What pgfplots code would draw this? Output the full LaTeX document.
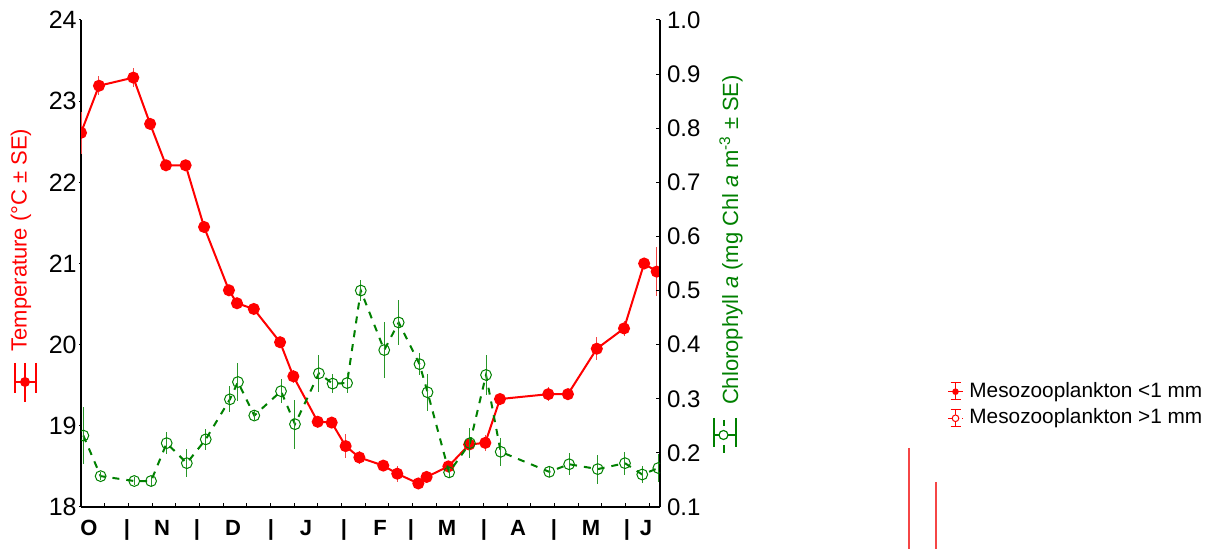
\documentclass[border=0pt]{standalone}
\usepackage{fontspec}
\setmainfont{Liberation Sans}
\usepackage{pgfplots}
\pgfplotsset{compat=1.18}
\usepackage{pgfplotstable}

\definecolor{tred}{RGB}{255,0,0}
\definecolor{errred}{RGB}{245,70,70}
\definecolor{chlgreen}{RGB}{0,128,0}
\definecolor{errgreen}{RGB}{40,150,40}

% x: sampling date in tick units (three ticks per month, October to June)
% Temperature (deg C) and its standard error
\pgfplotstableread{
x     y      e
0.00  22.61  0.26
0.76  23.19  0.12
2.21  23.29  0.12
2.92  22.72  0.07
3.59  22.21  0.06
4.42  22.21  0.05
5.20  21.45  0.06
6.25  20.67  0.06
6.59  20.51  0.05
7.30  20.44  0.06
8.41  20.03  0.07
8.97  19.61  0.08
10.00 19.05  0.07
10.59 19.04  0.07
11.18 18.75  0.15
11.76 18.61  0.08
12.77 18.51  0.07
13.36 18.41  0.10
14.25 18.29  0.05
14.60 18.37  0.05
15.52 18.50  0.06
16.40 18.77  0.10
17.08 18.79  0.10
17.70 19.33  0.05
19.74 19.39  0.09
20.57 19.39  0.05
21.79 19.95  0.14
22.94 20.20  0.09
23.79 21.00  0.07
24.32 20.90  0.30
}\temptable

% Chlorophyll a (mg Chl a m^-3) and its standard error
\pgfplotstableread{
x     y      e
0.10  0.232  0.052
0.83  0.157  0.008
2.25  0.148  0.008
2.96  0.148  0.009
3.62  0.218  0.020
4.47  0.181  0.026
5.27  0.225  0.020
6.29  0.299  0.024
6.63  0.331  0.035
7.32  0.269  0.009
8.45  0.314  0.022
9.04  0.253  0.045
10.05 0.347  0.034
10.63 0.328  0.018
11.24 0.329  0.019
11.82 0.500  0.019
12.81 0.390  0.052
13.42 0.441  0.042
14.30 0.364  0.020
14.64 0.312  0.034
15.55 0.164  0.010
16.43 0.218  0.028
17.11 0.344  0.037
17.73 0.202  0.026
19.78 0.165  0.010
20.62 0.179  0.020
21.83 0.170  0.027
22.98 0.181  0.021
23.71 0.160  0.015
24.39 0.172  0.026
}\chltable

\begin{document}
\begin{tikzpicture}
\useasboundingbox (0,0) rectangle (605.5pt,274.5pt);
\pgfplotsset{
  common/.style={
    scale only axis, width=289.5pt, height=243.5pt,
    at={(40.5pt,21pt)}, anchor=south west,
    xmin=0, xmax=24.46,
    clip marker paths=true,
    /pgf/number format/assume math mode=true,
    ticklabel style={font=\fontsize{12}{14}\selectfont},
    axis line style={line width=0.6pt, black},
    major tick style={line width=0.5pt, black},
  }
}
% temperature, left axis
\begin{axis}[common,
  axis x line*=bottom, axis y line*=left,
  ymin=18, ymax=24, ytick={18,19,...,24},
  xtick=\empty,
  tick align=outside, major tick length=1pt,
  yticklabel style={inner xsep=1pt, font=\fontsize{12.5}{14}\selectfont},
]
\addplot[tred, line width=1pt, mark=*, mark size=2.5pt,
  mark options={solid, fill=tred, draw=tred},
  error bars/.cd, y dir=both, y explicit, error mark=none,
  error bar style={errred, line width=0.5pt}]
  table[x=x, y=y, y error=e]{\temptable};
\end{axis}
% chlorophyll, right axis
\begin{axis}[common,
  axis x line*=bottom, axis y line*=right,
  ymin=0.1, ymax=1.0, ytick={0.1,0.2,...,1.0},
  xtick={0,1,...,24}, xticklabels=\empty,
  tick align=inside, major tick length=2pt,
  yticklabel style={/pgf/number format/.cd, fixed, fixed zerofill, precision=1},
]
\addplot[chlgreen, line width=1pt, dash pattern=on 3.5pt off 3.5pt,
  mark=o, mark size=2.7pt,
  mark options={solid, fill=white, draw=chlgreen, line width=0.5pt},
  error bars/.cd, y dir=both, y explicit, error mark=none,
  error bar style={errgreen, solid, line width=0.5pt}]
  table[x=x, y=y, y error=e]{\chltable};
\end{axis}

% annotations in pixel units, origin at the top left corner
\begin{scope}[shift={(0pt,274.5pt)}, x=0.5pt, y=-0.5pt]
  % month labels
  \foreach \p/\t in {89/O,127/|,162/N,197/|,233/D,271/|,306/J,344/|,380/F,
                     411/|,447/M,484/|,518/A,554/|,591/M,627/|,646/J}
    \node[anchor=base, inner sep=0pt, font=\fontsize{11}{13}\selectfont\bfseries] at (\p,535.5) {\t};

  % left axis title with its key
  \node[rotate=90, text=tred, inner sep=0pt, font=\fontsize{11}{13}\selectfont] at (21,240)
    {Temperature (°C ± SE)};
  \draw[tred, line width=0.6pt] (15,363) -- (15,393) (36,363) -- (36,393) (15,382) -- (36,382);
  \draw[tred, line width=1pt] (25,363) -- (25,402);
  \fill[tred] (25,382) circle (5);

  % right axis title with its key
  \node[rotate=90, text=chlgreen, inner sep=0pt, font=\fontsize{11}{13}\selectfont] at (731,240)
    {Chlorophyll \textit{a} (mg Chl \textit{a} m\textsuperscript{-3} ± SE)};
  \draw[chlgreen, line width=0.6pt] (714,418) -- (714,447) (736,418) -- (736,447) (714,435) -- (736,435);
  \draw[chlgreen, line width=1pt] (723.5,420) -- (723.5,426) (723.5,445) -- (723.5,453);
  \draw[chlgreen, line width=0.6pt, fill=white] (723.5,435) circle (4.5);

  % key for the size classes
  \draw[tred, line width=0.5pt] (955.5,383) -- (955.5,400) (950.5,383) -- (960.5,383) (950.5,400) -- (960.5,400);
  \draw[tred, line width=0.7pt] (948,391.7) -- (963,391.7);
  \fill[tred] (955.5,391.7) circle (3.3);
  \node[anchor=west, inner sep=0pt, font=\fontsize{10.4}{12}\selectfont] at (969,391.7) {Mesozooplankton <1 mm};

  \draw[tred, line width=0.5pt] (955.5,410) -- (955.5,427) (950.5,410) -- (960.5,410) (950.5,427) -- (960.5,427);
  \draw[tred, line width=0.7pt, dash pattern=on 2pt off 1.5pt] (948,418.3) -- (963,418.3);
  \draw[tred, line width=0.5pt, fill=white] (955.5,418.3) circle (3.3);
  \node[anchor=west, inner sep=0pt, font=\fontsize{10.4}{12}\selectfont] at (969,418.3) {Mesozooplankton >1 mm};

  \draw[errred, line width=0.6pt] (909,448) -- (909,549) (936,482) -- (936,549);
\end{scope}
\end{tikzpicture}
\end{document}
